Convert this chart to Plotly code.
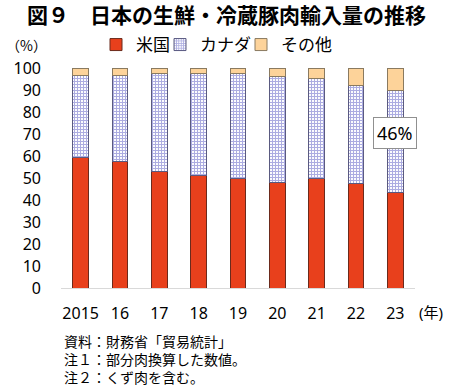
import plotly.graph_objects as go

years = ["2015", "16", "17", "18", "19", "20", "21", "22", "23"]
us = [59.5, 57.4, 53.0, 51.3, 49.6, 48.1, 49.8, 47.6, 43.2]
canada = [37.3, 39.4, 44.4, 46.1, 48.1, 48.1, 45.5, 44.6, 46.4]
other = [3.2, 3.2, 2.6, 2.6, 2.3, 3.8, 4.7, 7.8, 10.4]
names = ["米国", "カナダ", "その他"]
notes = ["資料：財務省「貿易統計」", "注１：部分肉換算した数値。", "注２：くず肉を含む。"]

FONT = "Noto Sans CJK JP"
NUM = "Noto Sans, Noto Sans CJK JP"
W, H = 450, 389
L, R, T, B = 61, 35, 68, 101
PW, PH = W - L - R, H - T - B

def px(x):
    return (x - L) / PW

def py(y):
    return (H - B - y) / PH

fig = go.Figure()
fig.add_trace(go.Bar(x=years, y=us, name=names[0], legend="legend",
                     marker=dict(color="#E8401C", line=dict(color="#6b2a1c", width=1))))
fig.add_trace(go.Bar(x=years, y=canada, name=names[1], legend="legend2",
                     marker=dict(color="#ffffff", line=dict(color="#5a5a80", width=1),
                                 pattern=dict(shape="+", fgcolor="#5a5ac4", bgcolor="#ffffff",
                                              size=3, solidity=0.6))))
fig.add_trace(go.Bar(x=years, y=other, name=names[2], legend="legend3",
                     marker=dict(color="#FDD39A", line=dict(color="#8a7a60", width=1))))

leg = dict(orientation="h", xanchor="left", yanchor="middle", y=py(45),
           font=dict(size=17, family=FONT), itemwidth=30, bgcolor="rgba(0,0,0,0)")

fig.update_layout(
    width=W, height=H,
    margin=dict(l=L, r=R, t=T, b=B),
    barmode="stack", bargap=0.6,
    plot_bgcolor="white", paper_bgcolor="white",
    font=dict(family=FONT, size=14, color="black"),
    showlegend=True,
    legend=dict(leg, x=px(96)),
    legend2=dict(leg, x=px(160)),
    legend3=dict(leg, x=px(241)),
    xaxis=dict(type="category", range=[-0.5, len(years) - 0.5], showline=True,
               linecolor="#d9d9d9", linewidth=1, ticks="",
               tickfont=dict(size=16, family=NUM), ticklabelstandoff=11),
    yaxis=dict(range=[0, 100], dtick=10, showgrid=False, zeroline=False, showline=False,
               ticks="", tickfont=dict(size=16, family=NUM), ticklabelstandoff=19),
)

ann = [
    dict(text="<b>図９　日本の生鮮・冷蔵豚肉輸入量の推移</b>", x=px(226), y=py(14),
         font=dict(size=21)),
    dict(text="（%）", x=px(26), y=py(45), font=dict(size=14)),
    dict(text="(年)", x=px(417), y=py(312), xanchor="left", font=dict(size=15, family=NUM)),
    dict(text="<br>".join(notes), x=px(62), y=py(359), xanchor="left", align="left",
         font=dict(size=14)),
]
for a in ann:
    a.setdefault("xanchor", "center")
    fig.add_annotation(xref="paper", yref="paper", showarrow=False, yanchor="middle", **a)

fig.add_annotation(x=len(years) - 1, y=70.5, xref="x", yref="y", text="46%", showarrow=False,
                   font=dict(size=18, family=NUM), bgcolor="white",
                   bordercolor="#909090", borderwidth=1, borderpad=3)

fig.write_html("out.html", config={"displayModeBar": False},
               post_script="document.body.style.margin='0';")
